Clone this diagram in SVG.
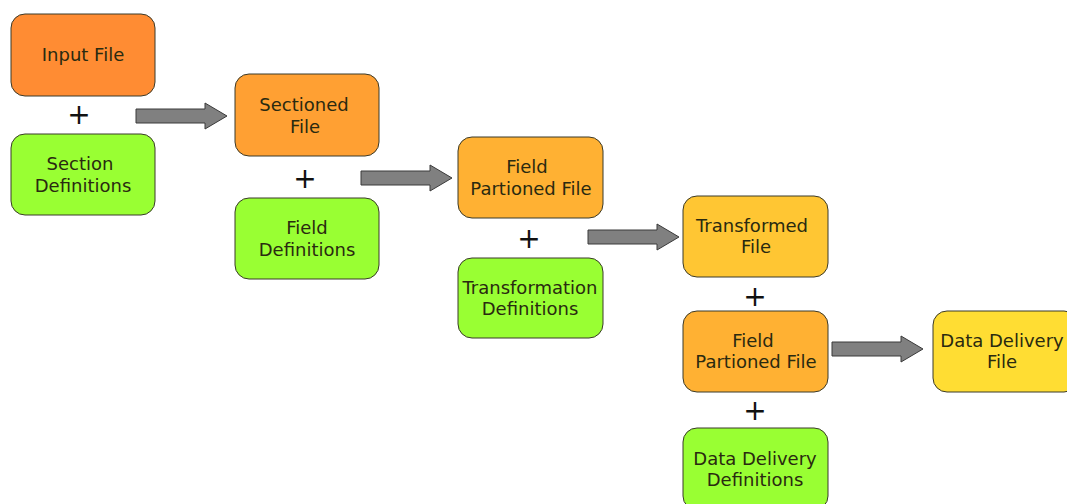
<svg xmlns="http://www.w3.org/2000/svg" width="1067" height="504" viewBox="0 0 1067 504">
  <defs>
    <style>
      .box { stroke: #3a3a2a; stroke-width: 1; }
      .orange1 { fill: #FF8C33; }
      .orange2 { fill: #FFA033; }
      .orange3 { fill: #FFB133; }
      .amber { fill: #FFC633; }
      .yellow { fill: #FFDD33; }
      .green { fill: #99FF33; }
      .label { font-family: "DejaVu Sans", Verdana, sans-serif; font-size: 18px; fill: #2a2a10; text-anchor: middle; }
      .plus { font-family: "DejaVu Sans", sans-serif; font-size: 28px; fill: #111; text-anchor: middle; }
      .arrow { fill: #808080; stroke: #3a3a3a; stroke-width: 1; }
    </style>
    <!-- block arrow shape, origin at tail centre -->
    <path id="blockArrow" class="arrow" d="M0,-7 H69 V-13 L91,0 L69,13 V7 H0 Z"/>
  </defs>

  <rect width="1067" height="504" fill="#ffffff"/>

  <g id="input-file">
    <rect class="box orange1" x="11" y="14" width="144" height="82" rx="14"/>
    <text class="label" x="83" y="61">Input File</text>
  </g>
  <g id="section-definitions">
    <rect class="box green" x="11" y="134" width="144" height="81" rx="14"/>
    <text class="label" x="80" y="170">Section</text>
    <text class="label" x="83" y="192">Definitions</text>
  </g>

  <g id="sectioned-file">
    <rect class="box orange2" x="235" y="74" width="144" height="82" rx="14"/>
    <text class="label" x="304" y="111">Sectioned</text>
    <text class="label" x="305" y="133">File</text>
  </g>
  <g id="field-definitions">
    <rect class="box green" x="235" y="198" width="144" height="81" rx="14"/>
    <text class="label" x="307" y="234">Field</text>
    <text class="label" x="307" y="256">Definitions</text>
  </g>

  <g id="field-partioned-file">
    <rect class="box orange3" x="458" y="137" width="145" height="81" rx="14"/>
    <text class="label" x="527" y="173">Field</text>
    <text class="label" x="531" y="195">Partioned File</text>
  </g>
  <g id="transformation-definitions">
    <rect class="box green" x="458" y="258" width="145" height="80" rx="14"/>
    <text class="label" x="530" y="294">Transformation</text>
    <text class="label" x="530" y="315">Definitions</text>
  </g>

  <g id="transformed-file">
    <rect class="box amber" x="683" y="196" width="145" height="81" rx="14"/>
    <text class="label" x="752" y="232">Transformed</text>
    <text class="label" x="756" y="253">File</text>
  </g>
  <g id="field-partioned-file-2">
    <rect class="box orange3" x="683" y="311" width="145" height="81" rx="14"/>
    <text class="label" x="753" y="347">Field</text>
    <text class="label" x="756" y="368">Partioned File</text>
  </g>
  <g id="data-delivery-definitions">
    <rect class="box green" x="683" y="428" width="145" height="82" rx="14"/>
    <text class="label" x="755" y="465">Data Delivery</text>
    <text class="label" x="755" y="486">Definitions</text>
  </g>

  <g id="data-delivery-file">
    <rect class="box yellow" x="933" y="311" width="145" height="81" rx="14"/>
    <text class="label" x="1002" y="347">Data Delivery</text>
    <text class="label" x="1002" y="368">File</text>
  </g>

  <g id="plus-signs">
    <text class="plus" x="79" y="124">+</text>
    <text class="plus" x="305" y="188">+</text>
    <text class="plus" x="529" y="248">+</text>
    <text class="plus" x="755" y="306">+</text>
    <text class="plus" x="755" y="420">+</text>
  </g>

  <g id="connectors">
    <use href="#blockArrow" x="136" y="116"/>
    <use href="#blockArrow" x="361" y="178"/>
    <use href="#blockArrow" x="588" y="237"/>
    <use href="#blockArrow" x="832" y="349"/>
  </g>
</svg>
